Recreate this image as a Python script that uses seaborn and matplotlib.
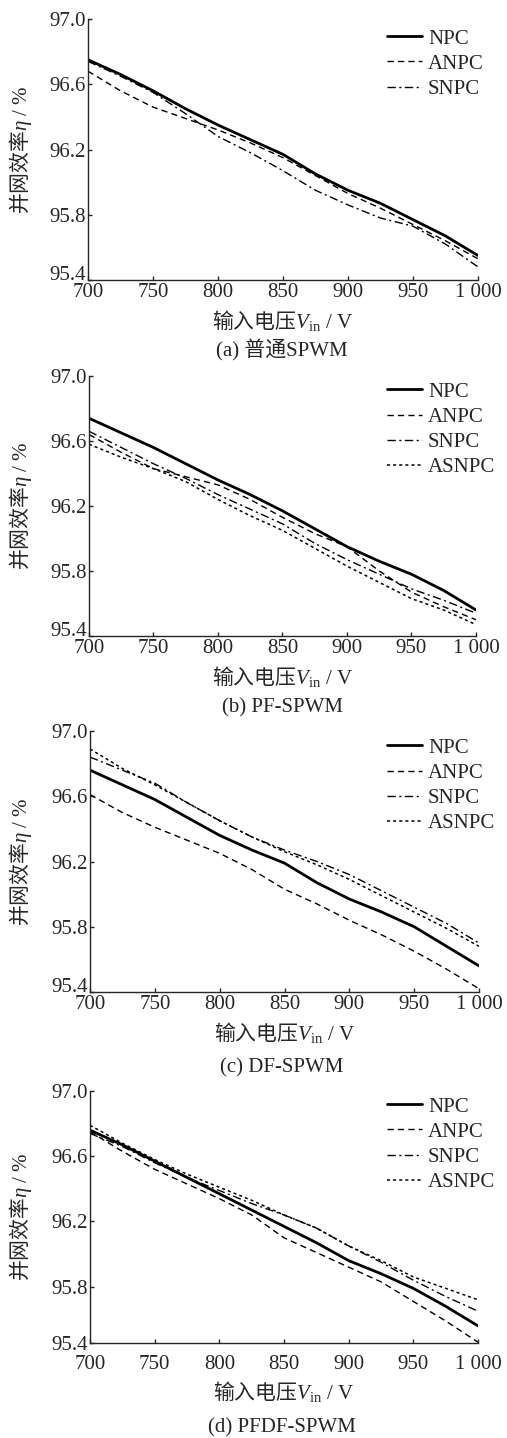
import matplotlib
matplotlib.use("Agg")
import matplotlib.pyplot as plt
import seaborn as sns
import pandas as pd

# input voltage grid (V)
voltage = [700, 725, 750, 775, 800, 825, 850, 875, 900, 925, 950, 975, 1000]

# (a) plain SPWM
a_npc = [96.75, 96.66, 96.56, 96.45, 96.35, 96.26, 96.17, 96.05, 95.95, 95.87, 95.77, 95.67, 95.55]
a_anpc = [96.68, 96.56, 96.46, 96.39, 96.32, 96.24, 96.15, 96.04, 95.93, 95.84, 95.74, 95.64, 95.53]
a_snpc = [96.74, 96.65, 96.55, 96.42, 96.28, 96.18, 96.07, 95.95, 95.86, 95.78, 95.73, 95.62, 95.48]

# (b) PF-SPWM
b_npc = [96.74, 96.65, 96.56, 96.46, 96.36, 96.27, 96.17, 96.06, 95.95, 95.86, 95.78, 95.68, 95.56]
b_anpc = [96.64, 96.53, 96.43, 96.38, 96.33, 96.24, 96.13, 96.03, 95.95, 95.80, 95.67, 95.58, 95.50]
b_snpc = [96.66, 96.56, 96.46, 96.37, 96.27, 96.18, 96.09, 95.97, 95.87, 95.78, 95.69, 95.62, 95.54]
b_asnpc = [96.58, 96.50, 96.43, 96.35, 96.24, 96.14, 96.05, 95.94, 95.83, 95.73, 95.63, 95.56, 95.47]

# (c) DF-SPWM
c_npc = [96.76, 96.67, 96.58, 96.47, 96.36, 96.27, 96.19, 96.07, 95.97, 95.89, 95.80, 95.68, 95.56]
c_anpc = [96.61, 96.50, 96.41, 96.33, 96.25, 96.15, 96.03, 95.94, 95.84, 95.75, 95.65, 95.54, 95.42]
c_snpc = [96.84, 96.76, 96.68, 96.56, 96.45, 96.35, 96.27, 96.20, 96.12, 96.02, 95.92, 95.82, 95.70]
c_asnpc = [96.89, 96.77, 96.67, 96.56, 96.45, 96.35, 96.26, 96.18, 96.09, 95.99, 95.89, 95.79, 95.68]

# (d) PFDF-SPWM
d_npc = [96.76, 96.67, 96.57, 96.47, 96.37, 96.27, 96.17, 96.07, 95.96, 95.88, 95.79, 95.68, 95.56]
d_anpc = [96.75, 96.63, 96.52, 96.43, 96.34, 96.24, 96.10, 96.01, 95.92, 95.83, 95.71, 95.59, 95.46]
d_snpc = [96.74, 96.66, 96.56, 96.47, 96.39, 96.31, 96.24, 96.16, 96.05, 95.95, 95.84, 95.74, 95.65]
d_asnpc = [96.79, 96.68, 96.58, 96.49, 96.41, 96.33, 96.24, 96.16, 96.05, 95.96, 95.86, 95.79, 95.72]

captions = ["(a) 普通SPWM", "(b) PF-SPWM", "(c) DF-SPWM", "(d) PFDF-SPWM"]
ytick_labels = ["95.4", "95.8", "96.2", "96.6", "97.0"]
xticks = [700, 750, 800, 850, 900, 950, 1000]
xticklabels = ["700", "750", "800", "850", "900", "950", "1 000"]
# panel (d) in the original has its x axis drawn a little above 95.4
ymins = [95.4, 95.4, 95.4, 95.455]

panels = [
    {"NPC": a_npc, "ANPC": a_anpc, "SNPC": a_snpc},
    {"NPC": b_npc, "ANPC": b_anpc, "SNPC": b_snpc, "ASNPC": b_asnpc},
    {"NPC": c_npc, "ANPC": c_anpc, "SNPC": c_snpc, "ASNPC": c_asnpc},
    {"NPC": d_npc, "ANPC": d_anpc, "SNPC": d_snpc, "ASNPC": d_asnpc},
]

sns.set_style("ticks")
plt.rcParams['font.family'] = ['Liberation Serif', 'Noto Sans CJK SC']
# CJK inside mathtext goes through \mathrm -> Noto Sans CJK
plt.rcParams['mathtext.fontset'] = 'custom'
plt.rcParams['mathtext.rm'] = 'Noto Sans CJK SC'
plt.rcParams['mathtext.sf'] = 'Liberation Serif'
plt.rcParams['mathtext.it'] = 'Liberation Serif:italic'
plt.rcParams['xtick.direction'] = 'in'
plt.rcParams['ytick.direction'] = 'in'

dash_map = {"NPC": "", "ANPC": (4.5, 3), "SNPC": (6, 2.5, 1.5, 2.5), "ASNPC": (2, 2)}
width_map = {"NPC": 2.0, "ANPC": 1.0, "SNPC": 1.0, "ASNPC": 1.1}

W, H = 507, 1438
fig = plt.figure(figsize=(W / 100, H / 100), dpi=100)

# axes boxes in pixels: left, top, right, bottom
boxes = [(88, 19, 478, 280), (89, 376, 476, 636), (90, 731, 479, 992), (90, 1091, 478, 1343)]
caption_y = [350, 708, 1068, 1428]
legend_top = [29, 382, 738, 1097]
xpads = [2.5, 2.5, 2.5, 8.5]

for i, data in enumerate(panels):
    l, t, r, b = boxes[i]
    ax = fig.add_axes([l / W, 1 - b / H, (r - l) / W, (b - t) / H])
    rows = []
    for name, vals in data.items():
        for v, e in zip(voltage, vals):
            rows.append({"V": v, "eff": e, "topo": name})
    df = pd.DataFrame(rows)
    names = list(data.keys())
    sns.lineplot(data=df, x="V", y="eff", style="topo", size="topo", ax=ax,
                 color="black", dashes={k: dash_map[k] for k in names},
                 sizes={k: width_map[k] for k in names}, style_order=names,
                 size_order=names)
    ax.set_xlim(700, 1000)
    ax.set_ylim(ymins[i], 97.0)
    ax.set_xticks(xticks)
    ax.set_xticklabels(xticklabels)
    ax.set_yticks([ymins[i], 95.8, 96.2, 96.6, 97.0])
    ax.set_yticklabels(ytick_labels)
    ax.tick_params(length=3, width=1, labelsize=15)
    ax.tick_params(axis="y", pad=1.5)
    ax.tick_params(axis="x", pad=xpads[i])
    for s in ["left", "bottom"]:
        ax.spines[s].set_linewidth(1.0)
    sns.despine(ax=ax)
    ax.set_xlabel(r"$\mathrm{输入电压}V_{\mathsf{in}}$ / V", fontsize=15, labelpad=4)
    ax.set_ylabel(r"$\mathrm{并网效率}\eta$ / %", fontsize=15)
    ax.yaxis.set_label_coords((34 - l) / (r - l), 0.5)
    sns.move_legend(ax, "upper left",
                    bbox_to_anchor=((387 - l) / (r - l), (b - legend_top[i]) / (b - t)),
                    frameon=False, title=None, fontsize=15, handlelength=1.68,
                    labelspacing=0.27, handletextpad=0.29, borderpad=0,
                    borderaxespad=0)
    if i < 3:
        # lowest y label sits on top of the x axis, as in the original
        ax.get_yticklabels()[0].set_va("baseline")
    fig.text(282 / W, 1 - caption_y[i] / H, captions[i], ha="center", va="center",
             fontsize=15)

fig.savefig("out.png", dpi=100)
